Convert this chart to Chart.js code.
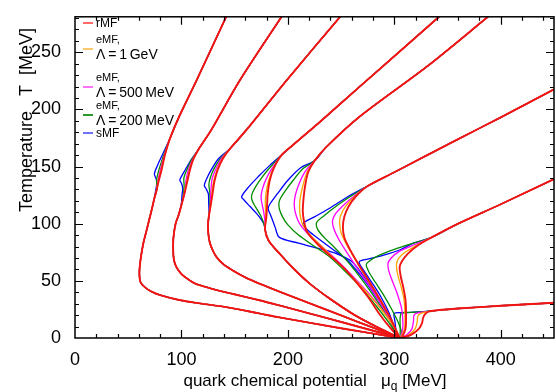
<!DOCTYPE html>
<html>
<head>
<meta charset="utf-8">
<script src="https://cdn.jsdelivr.net/npm/chart.js@4/dist/chart.umd.min.js"></script>
<style>
  body { margin: 0; background: #fff; }
  canvas { display: block; }
</style>
</head>
<body>
<canvas id="chart" width="556" height="392"></canvas>
<script>
// isentropes, [mu_q, T] in MeV
// each family: shared upper part, one middle part per model, shared lower part
const A_up = [[142,281],[114,225],[98,194],[89,174]];
const A_r = [[84.5,160],[81.3,147],[78.5,137],[76.6,129]];
const A_o = [[84.3,160],[81,147],[78.2,137],[76.6,129]];
const A_m = [[84,160],[80.2,147],[77.8,137],[76.6,129]];
const A_g = [[83.3,160],[78.8,147],[76.8,139],[76.6,129]];
const A_b = [[82,160],[77.5,151],[74.6,143.5],[76.3,139],[76.8,135],[75.8,129]];
const A_low = [[74.5,122],[72,112],[67.2,94],[64,82],[61.5,68],[60.5,57],[61.5,49],[65.5,44.5],[72,40.5],[80,37.5],[98,33.2],[117,30.3],[142,27],[173,21.5],[192,18],[250,8.5],[305,0]];

const B_up = [[194,281],[154.6,225],[128,182],[116,165]];
const B_r = [[111,156],[108,147],[105.5,137],[103,127],[100.5,118]];
const B_o = [[110.8,156],[107.5,147],[105,137],[102.7,127],[100.5,118]];
const B_m = [[110.3,156],[106.5,147],[104.3,138],[103.3,128],[100.5,118]];
const B_g = [[109.5,156],[105,147],[102.3,140],[102.5,133],[101.8,125],[100.5,118]];
const B_b = [[108.5,155],[103.5,147],[99.8,141],[98.5,138],[100.2,135],[101.2,131],[100.5,125],[100,118]];
const B_low = [[97.5,108],[94.5,100],[92.5,88],[92.2,77],[93,68],[95.3,62],[99,57],[103,53.5],[112,48],[123.4,44.5],[135,41.5],[148.4,38.5],[173.4,33],[192,28.5],[220,21.5],[250,14],[305,0]];

const C_up = [[249,281],[198.4,225],[161,182],[146,166]];
const C_r = [[139,157],[134,147],[131,137],[129.5,128],[128,119]];
const C_o = [[138.5,157],[133.5,147],[130.5,138],[129,130],[128,119]];
const C_m = [[137.5,157],[132.5,148],[129,140],[128,133],[127.5,125],[127.3,117]];
const C_g = [[136.5,157],[130.5,148],[127,140],[125.8,134],[126.6,128],[126.8,118]];
const C_b = [[135,157],[128.5,148],[124,140],[121.5,133.5],[123.5,130],[125.3,126],[125.6,118]];
const C_low = [[126,108],[125,100],[125.3,91],[126.5,84],[129,77.5],[132.8,71],[140,64],[148.4,59],[160,53],[173.4,47.5],[192,40.5],[220,30.5],[250,19.8],[280,9],[305,0]];

const D_up = [[342,281],[267,219.5],[230,189],[205,169],[194,160]];
const D_r = [[187,149],[183,138],[181,126],[180.5,117],[179.8,106]];
const D_o = [[186.5,149],[182,138],[179.5,127],[178.8,119],[179,110],[179.2,103]];
const D_m = [[185.5,149],[179.5,139],[176,130],[174.8,123],[175.8,117],[177.3,110],[178.5,102]];
const D_g = [[184,150],[176,141],[169.5,132],[166,125],[166.5,120],[170,114],[174.5,107],[177.5,100]];
const D_b = [[183,151],[172,141],[163,132],[156.5,123.5],[159,120.5],[164.5,115],[170.5,109],[175.5,103],[177.8,99]];
const D_low = [[178.5,95],[182,85],[192,74],[205,61],[220,48],[240,34],[262,20.5],[285,9],[305,0]];

const E_up = [[388,281],[330,237],[267,193.3],[236,167],[225,155]];
const E_r = [[219,145],[216,132],[214.5,120],[214,111],[215,103],[218,93],[226,84],[236,75],[246,67],[255,59],[265,48],[276,35],[286,21],[296,9],[305,0]];
const E_o = [[218,145],[214,133],[211.5,122],[211,113],[212,105],[214.5,98],[222,89],[233,79],[246,67],[259,55],[273,41],[287,26],[298,12],[305,0]];
const E_m = [[216.5,146],[211,136],[207,125],[206,116],[207.5,108],[211,100],[220,90],[232,80],[246,68],[260,55],[275,40],[289,24],[300,9],[305,0]];
const E_g = [[214,148],[205,138],[197,128],[192,120],[192,113],[195,106],[200,99],[210,90],[222,82],[238,72],[252,60],[268,45],[283,28],[296,12],[304,0]];
const E_b = [[212,149],[200,138],[190,126],[183,117],[181.5,113],[184,107],[188,97],[192,88],[210,83],[230,78],[245,74],[260,67],[272,53],[283,38],[293,22],[300,8],[302,0]];
const E_low = [];

const F_up = [[450,217.5],[400,193],[360,174],[300,145],[275,133]];
const F_r = [[264,124],[257,115],[253,106],[251.7,97],[253,88],[258,78],[266,65],[276,50],[287,33],[297,16],[305,0]];
const F_o = [[263,124],[254,115],[249.5,107],[248.6,101],[250,92],[255,82],[263,69],[274,52],[286,34],[297,16],[305,0]];
const F_m = [[262,124],[252,116],[245,109],[242,103],[243,96],[248,86],[256,74],[268,57],[282,38],[295,18],[305,0]];
const F_g = [[259,124],[245,115],[234,107],[227,101],[228,95],[234,88],[244,79],[257,66],[272,48],[287,28],[299,10],[304,0]];
const F_b = [[257,124],[240,114],[225,106],[214,100],[219,94],[230,86],[243,77],[256,68],[268,55],[280,40],[291,24],[299,9],[302,0]];
const F_low = [];

const G_up = [[450,139],[400,117],[360,100],[335,88]];
const G_r = [[322,81],[313,74],[307,67],[305,62],[306,54],[308.5,44],[310.5,33],[311,20],[310.5,8],[307,0]];
const G_o = [[321,81],[310,75],[303.5,69],[302,63.5],[303,56],[306,46],[309,34],[310,20],[309.5,8],[306,0]];
const G_m = [[320,82],[305,76],[297,70],[294,65],[295,58],[298.5,49],[303,38],[307,25],[308,10],[306,0]];
const G_g = [[318,83],[300,77.5],[285,72],[276,67],[273.6,64],[276,58],[282,49],[289,39],[297,26],[304,13],[307,4],[306,0]];
const G_b = [[318,83],[305,77],[290,72.5],[275,69],[267,66.6],[272,58],[280,47],[288,35],[295,22],[300,9],[302,0]];
const G_low = [];

const H_up = [[450,30.8],[400,28.2],[360,25.8],[340,24.2]];
const H_r = [[332,23],[328.5,20.5],[327,17.5],[326,13],[323,8],[316,3],[307,0]];
const H_o = [[331,23],[325,21.5],[322,19],[321.5,14],[319.5,8],[314,3],[307,0]];
const H_m = [[330,23],[322,22],[318.5,20],[318,15],[316.5,8],[312,3],[306,0]];
const H_g = [[328,23],[315,22.5],[307,22],[305.5,18],[305.5,10],[305.5,4],[305,0]];
const H_b = [[326,23],[310,22],[300,21.6],[300.5,15],[301.5,7],[302,0]];
const H_low = [];

const families = [
  [A_up, [A_r, A_o, A_m, A_g, A_b], A_low],
  [B_up, [B_r, B_o, B_m, B_g, B_b], B_low],
  [C_up, [C_r, C_o, C_m, C_g, C_b], C_low],
  [D_up, [D_r, D_o, D_m, D_g, D_b], D_low],
  [E_up, [E_r, E_o, E_m, E_g, E_b], E_low],
  [F_up, [F_r, F_o, F_m, F_g, F_b], F_low],
  [G_up, [G_r, G_o, G_m, G_g, G_b], G_low],
  [H_up, [H_r, H_o, H_m, H_g, H_b], H_low]
];

const models = ['rMF', 'eMF, Λ = 1 GeV', 'eMF, Λ = 500 MeV', 'eMF, Λ = 200 MeV', 'sMF'];
const colors = ['#f01414', '#ffa500', '#ff00ff', '#008c00', '#0000ff'];
const legendColors = ['#ff6a6a', '#ffc870', '#ff70ff', '#2a9a2a', '#7070ff'];
const widths = [1.9, 1.3, 1.3, 1.3, 1.3];

const FONT = '"Liberation Sans", Arial, sans-serif';

// dataset 0 is drawn on top, so red goes first
const datasets = [];
models.forEach((name, m) => {
  families.forEach(([up, mids, low]) => {
    const pts = up.concat(mids[m], low).map(p => ({ x: p[0], y: p[1] }));
    datasets.push({
      label: name,
      data: pts,
      showLine: true,
      borderColor: colors[m],
      backgroundColor: colors[m],
      borderWidth: widths[m],
      pointRadius: 0,
      tension: 0.3,
      fill: false
    });
  });
});

const frame = {
  id: 'frame',
  afterDraw(chart) {
    const { ctx, chartArea: a, scales: { x, y } } = chart;
    ctx.save();
    ctx.strokeStyle = '#000';
    ctx.lineWidth = 1.5;
    ctx.strokeRect(a.left, a.top, a.right - a.left, a.bottom - a.top);

    // inward ticks on all four sides
    ctx.lineWidth = 1.2;
    ctx.beginPath();
    for (let v = 20; v <= 440; v += 20) {
      const len = v % 100 === 0 ? 8 : 4;
      const px = Math.round(x.getPixelForValue(v)) + 0.5;
      ctx.moveTo(px, a.bottom); ctx.lineTo(px, a.bottom - len);
      ctx.moveTo(px, a.top); ctx.lineTo(px, a.top + len);
    }
    for (let v = 10; v <= 280; v += 10) {
      const len = v % 50 === 0 ? 8 : 4;
      const py = Math.round(y.getPixelForValue(v)) + 0.5;
      ctx.moveTo(a.left, py); ctx.lineTo(a.left + len, py);
      ctx.moveTo(a.right, py); ctx.lineTo(a.right - len, py);
    }
    ctx.stroke();

    // legend
    ctx.textBaseline = 'middle';
    ctx.fillStyle = '#000';
    const items = [
      { c: 0, ly: 23, lines: [['rMF', 12, 24]] },
      { c: 1, ly: 49, lines: [['eMF,', 11, 40], ['Λ\u2009=\u20091\u2009GeV', 14, 55]] },
      { c: 2, ly: 87, lines: [['eMF,', 11, 78], ['Λ\u2009=\u2009500\u2009MeV', 14, 93]] },
      { c: 3, ly: 115, lines: [['eMF,', 11, 106], ['Λ\u2009=\u2009200\u2009MeV', 14, 121]] },
      { c: 4, ly: 133, lines: [['sMF', 12, 134]] }
    ];
    items.forEach(it => {
      ctx.strokeStyle = legendColors[it.c];
      ctx.lineWidth = 2;
      ctx.beginPath();
      ctx.moveTo(83, it.ly); ctx.lineTo(93, it.ly);
      ctx.stroke();
      it.lines.forEach(([t, s, ty]) => {
        ctx.font = s + 'px ' + FONT;
        ctx.fillText(t, 96, ty);
      });
    });

    // axis titles
    ctx.textBaseline = 'alphabetic';
    const t1 = 'quark chemical potential   μ';
    const t2 = 'q';
    const t3 = ' [MeV]';
    ctx.font = '17px ' + FONT;
    const w1 = ctx.measureText(t1).width;
    ctx.font = '12px ' + FONT;
    const w2 = ctx.measureText(t2).width;
    ctx.font = '17px ' + FONT;
    const w3 = ctx.measureText(t3).width;
    let tx = 315 - (w1 + w2 + w3) / 2;
    const ty = 386;
    ctx.fillText(t1, tx, ty);
    tx += w1;
    ctx.font = '12px ' + FONT;
    ctx.fillText(t2, tx, ty + 4);
    tx += w2;
    ctx.font = '17px ' + FONT;
    ctx.fillText(t3, tx, ty);

    ctx.translate(27, 120);
    ctx.rotate(-Math.PI / 2);
    ctx.textAlign = 'center';
    ctx.textBaseline = 'middle';
    ctx.font = '18px ' + FONT;
    ctx.fillText('Temperature   T  [MeV]', 0, 0);
    ctx.restore();
  }
};

new Chart(document.getElementById('chart'), {
  type: 'scatter',
  data: { datasets },
  options: {
    responsive: false,
    animation: false,
    layout: { padding: { top: 16, right: 2, left: 0, bottom: 0 } },
    plugins: { legend: { display: false }, tooltip: { enabled: false } },
    scales: {
      x: {
        type: 'linear', min: 0, max: 450,
        afterFit: s => { s.height = 54; },
        grid: { display: false },
        border: { display: false },
        ticks: { stepSize: 100, includeBounds: false, color: '#000', padding: 3, maxRotation: 0,
                 font: { family: FONT, size: 18 } }
      },
      y: {
        type: 'linear', min: 0, max: 281,
        afterFit: s => { s.width = 75; },
        grid: { display: false },
        border: { display: false },
        ticks: { stepSize: 50, includeBounds: false, color: '#000', padding: 6,
                 font: { family: FONT, size: 18 } }
      }
    }
  },
  plugins: [frame]
});
</script>
</body>
</html>
